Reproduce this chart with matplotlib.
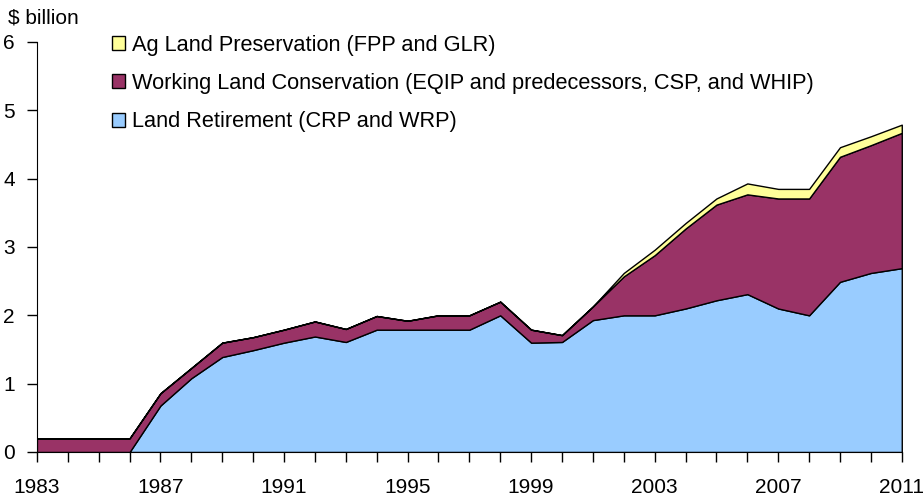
import numpy as np
import matplotlib
matplotlib.use("Agg")
import matplotlib.pyplot as plt
from matplotlib.patches import Patch

plt.rcParams['font.family'] = ['Liberation Sans', 'DejaVu Sans']

years = list(range(1983, 2012))
# $ billion by program group
land_retirement = [0, 0, 0, 0, 0.68, 1.08, 1.39, 1.49, 1.60, 1.69, 1.61, 1.79, 1.79, 1.79,
                   1.79, 2.00, 1.60, 1.61, 1.93, 2.00, 2.00, 2.10, 2.22, 2.31, 2.10, 2.00,
                   2.49, 2.62, 2.69]
working_land = [0.20, 0.20, 0.20, 0.20, 0.18, 0.15, 0.21, 0.19, 0.19, 0.22, 0.19, 0.20, 0.13,
                0.21, 0.21, 0.20, 0.19, 0.10, 0.20, 0.57, 0.88, 1.17, 1.40, 1.46, 1.61, 1.71,
                1.83, 1.87, 1.98]
ag_preservation = [0, 0, 0, 0, 0, 0, 0, 0, 0, 0, 0, 0, 0, 0, 0, 0, 0, 0, 0, 0.05, 0.08, 0.08,
                   0.09, 0.16, 0.14, 0.14, 0.14, 0.13, 0.12]

labels = ["Land Retirement (CRP and WRP)",
          "Working Land Conservation (EQIP and predecessors, CSP, and WHIP)",
          "Ag Land Preservation (FPP and GLR)"]
colors = ["#99CCFF", "#993366", "#FFFF99"]
xticks = list(range(1983, 2012, 4))

fig = plt.figure(figsize=(9.23, 4.98), dpi=100)
ax = fig.add_axes([0.040, 0.0924, 0.937, 0.8233])

ax.stackplot(years, land_retirement, working_land, ag_preservation,
             colors=colors, edgecolor="black", linewidth=1.0)

ax.set_xlim(1983, 2011)
ax.set_ylim(0, 6)
ax.set_xticks(xticks)
ax.set_xticks(years, minor=True)
ax.set_yticks(range(0, 7))
for s in ["top", "right"]:
    ax.spines[s].set_visible(False)
ax.tick_params(axis="both", which="both", direction="out", length=7, width=1,
               labelsize=15)
ax.tick_params(axis="x", pad=12)
ax.tick_params(axis="y", pad=9)

handles = [Patch(facecolor=c, edgecolor="black", linewidth=1) for c in colors]
leg = ax.legend(handles[::-1], labels[::-1], loc="upper left",
                bbox_to_anchor=(0.0867, 1.018), frameon=False, fontsize=15.7,
                borderaxespad=0, borderpad=0,
                handlelength=0.6, handleheight=0.6, handletextpad=0.32,
                labelspacing=0.8)

fig.text(0.009, 0.963, "$ billion", fontsize=15, ha="left", va="center")

fig.savefig("out.png", dpi=100)
